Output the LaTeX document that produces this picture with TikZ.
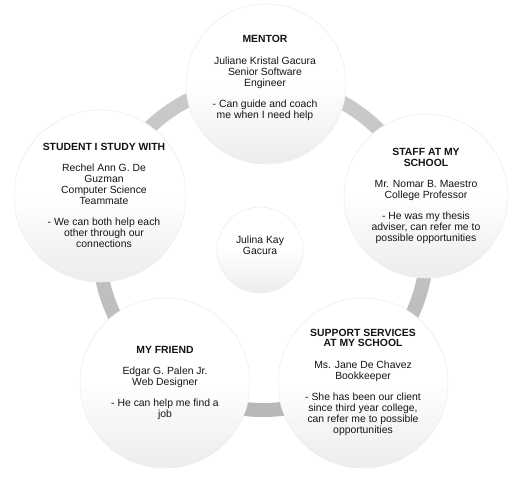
\documentclass[tikz,border=0pt]{standalone}
\usepackage{fontspec}
\setmainfont{Liberation Sans}
\pgfdeclareverticalshading{circfill}{100bp}{color(0bp)=(black!14); color(30bp)=(black!6); color(50bp)=(white); color(100bp)=(white)}
\pgfdeclareverticalshading{ringfill}{100bp}{color(0bp)=(black!32); color(50bp)=(black!24); color(100bp)=(black!17)}
\begin{document}
\begin{tikzpicture}[x=1pt,y=-1pt,
  bubble/.style={circle,inner sep=0pt,shading=circfill,draw=black!7,line width=0.6pt},
  txt/.style={align=center,font=\fontsize{10.4}{10.9}\selectfont,text=black!92,inner sep=0pt}]
\useasboundingbox (0,0) rectangle (521,479);
\coordinate (ringc) at (263,246);
% ring
\path[shading=ringfill,even odd rule] (ringc) circle[radius=171pt] (ringc) circle[radius=157pt];
% circles
\node[bubble,minimum size=160pt] (mentor) at (266,84) {};
\node[bubble,minimum size=164pt] (staff) at (426,196) {};
\node[bubble,minimum size=172pt] (student) at (100,196) {};
\node[bubble,minimum size=170pt] (friend) at (165,383) {};
\node[bubble,minimum size=170pt] (support) at (363,383) {};
\node[bubble,minimum size=86pt] (me) at (260,250) {};
% texts
\node[txt] (mentortxt) at (265,78) {\textbf{MENTOR}\\[10.4pt]Juliane Kristal Gacura\\Senior Software\\Engineer\\[10.4pt]- Can guide and coach\\me when I need help};
\node[txt] (studenttxt) at (104,195) {\textbf{STUDENT I STUDY WITH}\\[10.4pt]Rechel Ann G. De\\Guzman\\Computer Science\\Teammate\\[10.4pt]- We can both help each\\other through our\\connections};
\node[txt] (stafftxt) at (426,196) {\textbf{STAFF AT MY}\\\textbf{SCHOOL}\\[10.4pt]Mr. Nomar B. Maestro\\College Professor\\[10.4pt]- He was my thesis\\adviser, can refer me to\\possible opportunities};
\node[txt] (friendtxt) at (165,383) {\textbf{MY FRIEND}\\[10.4pt]Edgar G. Palen Jr.\\Web Designer\\[10.4pt]- He can help me find a\\job};
\node[txt] (supporttxt) at (363,382) {\textbf{SUPPORT SERVICES}\\\textbf{AT MY SCHOOL}\\[10.4pt]Ms. Jane De Chavez\\Bookkeeper\\[10.4pt]- She has been our client\\since third year college,\\can refer me to possible\\opportunities};
\node[txt] (metxt) at (260,245) {Julina Kay\\Gacura};
\end{tikzpicture}
\end{document}
